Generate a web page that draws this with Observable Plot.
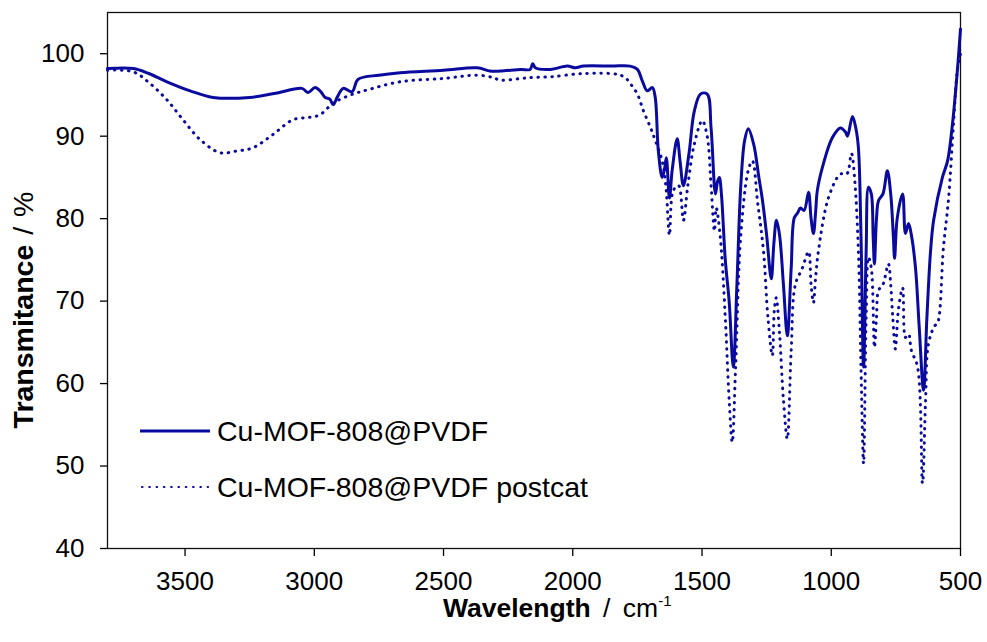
<!DOCTYPE html>
<html><head><meta charset="utf-8">
<script src="https://cdn.jsdelivr.net/npm/d3@7"></script>
<script src="https://cdn.jsdelivr.net/npm/@observablehq/plot@0.6"></script>
<style>
html,body{margin:0;padding:0;background:#fff;}
body{font-family:"Liberation Sans",Arial,sans-serif;color:#000;}
#wrap{position:relative;width:987px;height:642px;overflow:hidden;}
.lab{position:absolute;white-space:nowrap;line-height:1;}
#ylab{left:23px;top:310px;font-size:28.5px;transform:translate(-50%,-50%) rotate(-90deg);word-spacing:2px;}
#xlab{left:443px;top:595px;font-size:26.5px;word-spacing:5px;}
#xlab sup{font-size:15px;vertical-align:0;position:relative;top:-11px;}
.leg{position:absolute;left:140px;font-size:28.5px;line-height:1;white-space:nowrap;display:flex;align-items:center;}
.leg svg{margin-right:7px;}
</style></head>
<body><div id="wrap"></div>
<script>
// Series 1: Cu-MOF-808@PVDF (solid)
const solidWn = [3800,3700,3640,3570,3480,3392,3250,3150,3048,3024,2997,2975,2958,2940,2927,2910,2888,2854,2830,2750,2668,2500,2370,2320,2281,2200,2165,2155,2145,2087,2021,1990,1959,1850,1778,1750,1731,1712,1692,1681,1669,1654,1645,1638,1626,1615,1596,1585,1572,1550,1530,1506,1480,1465,1448,1440,1433,1425,1410,1395,1379,1365,1350,1335,1321,1300,1280,1266,1250,1232,1222,1212,1200,1185,1170,1155,1143,1130,1119,1105,1088,1078,1069,1060,1054,1030,996,965,945,937,918,905,895,885,875,865,856,845,838,833,825,817,800,783,770,760,755,745,724,713,701,690,674,660,643,630,616,604,570,550,531,512,500];
const solidT = [98.2,98.2,97.6,96.6,95.5,94.7,94.7,95.2,95.8,95.3,95.9,95.4,94.7,94.5,93.8,94.8,95.8,95.4,96.9,97.4,97.7,98.0,98.3,97.9,97.9,98.1,98.1,98.8,98.3,98.1,98.5,98.3,98.5,98.5,98.5,98.1,96.7,95.5,95.9,94.7,88.2,85,86,87.4,82.5,86,89.7,87,84,88,93,95.1,95.1,91,83,84.5,85,83,75,70,62,72,84,89.5,90.9,89,85,82.2,78,72.7,77,79.8,78,72,65.8,74,80.1,80.7,81.3,81,83.2,80,78.2,81,83.4,86.7,89.8,91,90.5,90,92.4,91,88.6,78,62,76,83.8,83,78,74.5,80,82.2,83,85.8,83,78,75.2,80,83,78.2,79.4,78,74,67,59.2,68,76,79.8,85,87,91.5,98,103];

// Series 2: Cu-MOF-808@PVDF postcat (dotted)
const dotWn = [3800,3700,3636,3570,3508,3442,3365,3300,3237,3160,3082,3016,2978,2927,2860,2796,2668,2500,2370,2308,2281,2200,2165,2087,1959,1828,1797,1778,1750,1727,1700,1681,1654,1640,1626,1615,1603,1590,1572,1555,1530,1499,1480,1465,1452,1445,1430,1410,1395,1383,1370,1350,1320,1305,1285,1262,1245,1228,1220,1213,1200,1185,1170,1155,1139,1112,1088,1078,1069,1060,1050,1011,965,940,922,910,895,885,875,865,856,845,833,825,817,800,779,770,762,752,740,724,713,701,690,666,647,635,624,600,589,566,546,527,512,500];
const dotT = [98.0,97.8,96.4,94.4,92,89.6,88.0,88.2,88.6,90.2,92,92.3,92.6,94.0,95,95.6,96.6,97.0,97.4,97.1,96.8,97.0,97.1,97.2,97.6,97.5,97.1,96.4,95.1,93.1,91.1,89.5,87,84,78,83,83.8,84,79.8,84,89,91.9,90,84,78.5,81.3,78,68,58,52.9,62,78,86,87,82,76,68,63.4,69,70.4,66,58,53.3,64,72,74,76,72,69.8,73,76,82.5,85.4,85.4,87.9,85,76,62,50.3,68,75.3,74,64.4,68,71.3,72,74.5,72,68,64.2,69,71.6,65.6,66,64,62,47.9,58,64.8,67,67.3,76.5,82.5,91.5,98,100];

const seriesNames = ["Cu-MOF-808@PVDF", "Cu-MOF-808@PVDF postcat"];
const xTicks = [3500,3000,2500,2000,1500,1000,500];
const yTicks = [40,50,60,70,80,90,100];

const color = "#0a0a9e";
const solid = solidWn.map((w,i)=>({w, t: solidT[i]}));
const dotted = dotWn.map((w,i)=>({w, t: dotT[i]}));

const chart = Plot.plot({
  width: 987, height: 642,
  marginLeft: 107, marginRight: 27, marginTop: 12, marginBottom: 94,
  style: {fontFamily: '"Liberation Sans", Arial, sans-serif', fontSize: "26px", color: "#000", background: "#fff"},
  x: {domain: [3800, 500], label: null},
  y: {domain: [40, 105], label: null},
  marks: [
    Plot.frame({stroke: "#111", strokeWidth: 1.3}),
    Plot.axisX({ticks: xTicks, tickSize: 8, tickPadding: 15, tickFormat: d => String(d), label: null, strokeWidth: 1.3}),
    Plot.axisY({ticks: yTicks, tickSize: 7, tickPadding: 16, tickFormat: d => String(d), label: null, strokeWidth: 1.3}),
    Plot.line(dotted, {x: "w", y: "t", stroke: color, strokeWidth: 3, strokeDasharray: "0.5 6.5", strokeLinecap: "round", curve: "catmull-rom"}),
    Plot.line(solid, {x: "w", y: "t", stroke: color, strokeWidth: 3, curve: "catmull-rom"})
  ]
});
const wrap = document.getElementById("wrap");
wrap.appendChild(chart);

function addLabel(id, html){
  const d = document.createElement("div");
  d.className = "lab"; d.id = id; d.innerHTML = html;
  wrap.appendChild(d);
}
addLabel("ylab", "<b>Transmitance</b> / %");
addLabel("xlab", "<b>Wavelength</b> / cm<sup>-1</sup>");

function addLegend(top, name, dashed){
  const d = document.createElement("div");
  d.className = "leg"; d.style.top = top + "px"; d.style.height = "28px";
  const ns = "http://www.w3.org/2000/svg";
  const s = document.createElementNS(ns, "svg");
  s.setAttribute("width", 70); s.setAttribute("height", 10);
  const l = document.createElementNS(ns, "line");
  l.setAttribute("x1", dashed ? 2 : 0); l.setAttribute("x2", dashed ? 68 : 70);
  l.setAttribute("y1", 5); l.setAttribute("y2", 5);
  l.setAttribute("stroke", color);
  l.setAttribute("stroke-width", dashed ? 2.2 : 3);
  if (dashed) { l.setAttribute("stroke-dasharray", "0.5 6.8"); l.setAttribute("stroke-linecap", "round"); }
  s.appendChild(l);
  d.appendChild(s);
  const t = document.createElement("span"); t.textContent = name;
  d.appendChild(t);
  wrap.appendChild(d);
}
addLegend(417, seriesNames[0], false);
addLegend(473, seriesNames[1], true);
</script>
</body></html>
